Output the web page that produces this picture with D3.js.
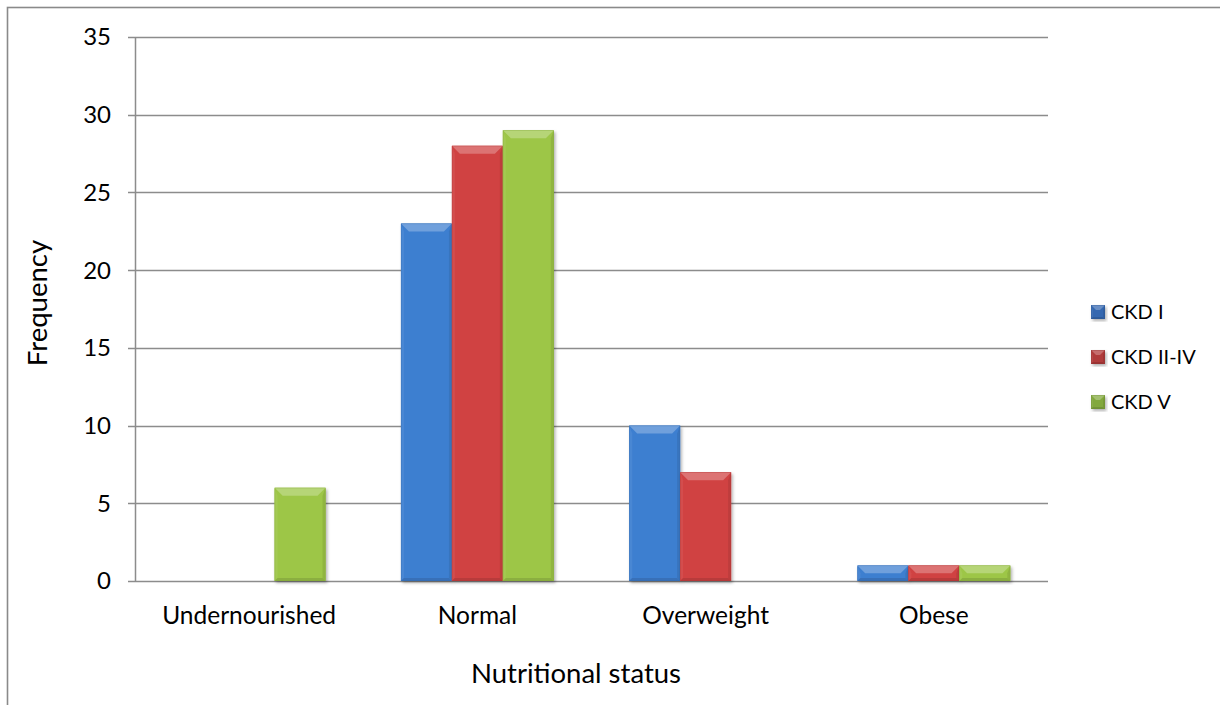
<!DOCTYPE html>
<html>
<head>
<meta charset="utf-8">
<script src="https://cdn.jsdelivr.net/npm/d3@7"></script>
<style>
  html, body { margin: 0; padding: 0; background: #fff; }
  svg { display: block; font-family: Lato, "Open Sans", sans-serif; }
</style>
</head>
<body>
<svg id="chart" width="1220" height="705"></svg>
<script>
// Nutritional status by CKD stage
const categories = ["Undernourished", "Normal", "Overweight", "Obese"];
const seriesNames = ["CKD I", "CKD II-IV", "CKD V"];
const ckd1 = [0, 23, 10, 1];
const ckd2_4 = [0, 28, 7, 1];
const ckd5 = [6, 29, 0, 1];
const yTicks = [0, 5, 10, 15, 20, 25, 30, 35];

const seriesValues = [ckd1, ckd2_4, ckd5];
const colors = ["#3e7fd0", "#d04242", "#9dc647"];

const svg = d3.select("#chart");
const plot = { left: 135, right: 1048, top: 37, bottom: 581 };

// outer chart frame (runs past the right and bottom edges)
svg.append("rect")
  .attr("x", 7.5).attr("y", 7.5)
  .attr("width", 1240).attr("height", 720)
  .attr("fill", "#fff").attr("stroke", "#8a8a8a").attr("stroke-width", 1.6);

const defs = svg.append("defs");
const f = defs.append("filter").attr("id", "shadow")
  .attr("x", "-20%").attr("y", "-20%").attr("width", "140%").attr("height", "140%");
f.append("feDropShadow").attr("dx", 1.5).attr("dy", 2).attr("stdDeviation", 1.6)
  .attr("flood-color", "#000").attr("flood-opacity", 0.3);

const y = d3.scaleLinear().domain([0, 35]).range([plot.bottom, plot.top]);
const x0 = d3.scaleBand().domain(categories).range([plot.left, plot.right]).paddingInner(0).paddingOuter(0);
const x1 = d3.scaleBand().domain(seriesNames).range([0, x0.bandwidth()]).paddingInner(0).paddingOuter(0.74);

// gridlines
svg.append("g").selectAll("line").data(yTicks).join("line")
  .attr("x1", plot.left - 7).attr("x2", plot.right)
  .attr("y1", d => Math.round(y(d)) + 0.5).attr("y2", d => Math.round(y(d)) + 0.5)
  .attr("stroke", "#8c8c8c").attr("stroke-width", 1.5);

// y axis line
svg.append("line")
  .attr("x1", plot.left + 0.5).attr("x2", plot.left + 0.5)
  .attr("y1", plot.top).attr("y2", plot.bottom)
  .attr("stroke", "#8c8c8c").attr("stroke-width", 1.5);

// y tick labels
svg.append("g").selectAll("text").data(yTicks).join("text")
  .attr("x", 111).attr("y", d => y(d))
  .attr("dy", "0.35em").attr("text-anchor", "end")
  .attr("font-size", 24).attr("fill", "#000")
  .text(d => d);

// category labels
svg.append("g").selectAll("text").data(categories).join("text")
  .attr("x", d => x0(d) + x0.bandwidth() / 2).attr("y", 624)
  .attr("text-anchor", "middle").attr("font-size", 24.5).attr("fill", "#000")
  .text(d => d);

// axis titles
svg.append("text").attr("x", 576).attr("y", 683)
  .attr("text-anchor", "middle").attr("font-size", 27.5).attr("fill", "#000")
  .text("Nutritional status");
svg.append("text")
  .attr("transform", "translate(47,303) rotate(-90)")
  .attr("text-anchor", "middle").attr("font-size", 27.5).attr("fill", "#000")
  .text("Frequency");

// beveled bar drawing
function bevelBar(g, x, yTop, w, h, color, b, bBottom) {
  const c = d3.color(color);
  const light = d3.interpolateRgb(color, "#ffffff")(0.26);
  const sideL = d3.interpolateRgb(color, "#ffffff")(0.06);
  const sideR = c.darker(0.25).formatHex();
  const bottom = c.darker(0.35).formatHex();
  const bb = Math.min(b, h / 2);
  const bt = Math.min(bBottom, h / 2);
  const grp = g.append("g").attr("filter", "url(#shadow)");
  grp.append("rect").attr("x", x).attr("y", yTop).attr("width", w).attr("height", h).attr("fill", color);
  grp.append("path").attr("d", `M${x},${yTop}L${x + bt},${yTop + bb}L${x + bt},${yTop + h - bt}L${x},${yTop + h}Z`).attr("fill", sideL);
  grp.append("path").attr("d", `M${x + w},${yTop}L${x + w - bt},${yTop + bb}L${x + w - bt},${yTop + h - bt}L${x + w},${yTop + h}Z`).attr("fill", sideR);
  grp.append("path").attr("d", `M${x},${yTop + h}L${x + bt},${yTop + h - bt}L${x + w - bt},${yTop + h - bt}L${x + w},${yTop + h}Z`).attr("fill", bottom);
  grp.append("path").attr("d", `M${x},${yTop}L${x + w},${yTop}L${x + w - bb},${yTop + bb}L${x + bb},${yTop + bb}Z`).attr("fill", light);
  grp.append("rect").attr("x", x + 0.3).attr("y", yTop + 0.3).attr("width", w - 0.6).attr("height", h - 0.6)
    .attr("fill", "none").attr("stroke", c.darker(0.5).formatHex()).attr("stroke-width", 0.6).attr("stroke-opacity", 0.5);
}

const barsG = svg.append("g");
categories.forEach((cat, i) => {
  seriesNames.forEach((s, j) => {
    const v = seriesValues[j][i];
    if (v <= 0) return;
    const bx = x0(cat) + x1(s);
    const by = y(v);
    bevelBar(barsG, bx, by, x1.bandwidth(), y(0) - by, colors[j], 8, 3);
  });
});

// legend
const legend = svg.append("g");
const legendColors = ["#3568b0", "#b03a3a", "#82a83e"];
seriesNames.forEach((s, j) => {
  const cy = 312 + j * 45;
  bevelBar(legend, 1091, cy - 7, 14, 14, legendColors[j], 5, 2);
  legend.append("text").attr("x", 1111).attr("y", cy).attr("dy", "0.35em")
    .attr("font-size", 20).attr("fill", "#000").text(s);
});
</script>
</body>
</html>
